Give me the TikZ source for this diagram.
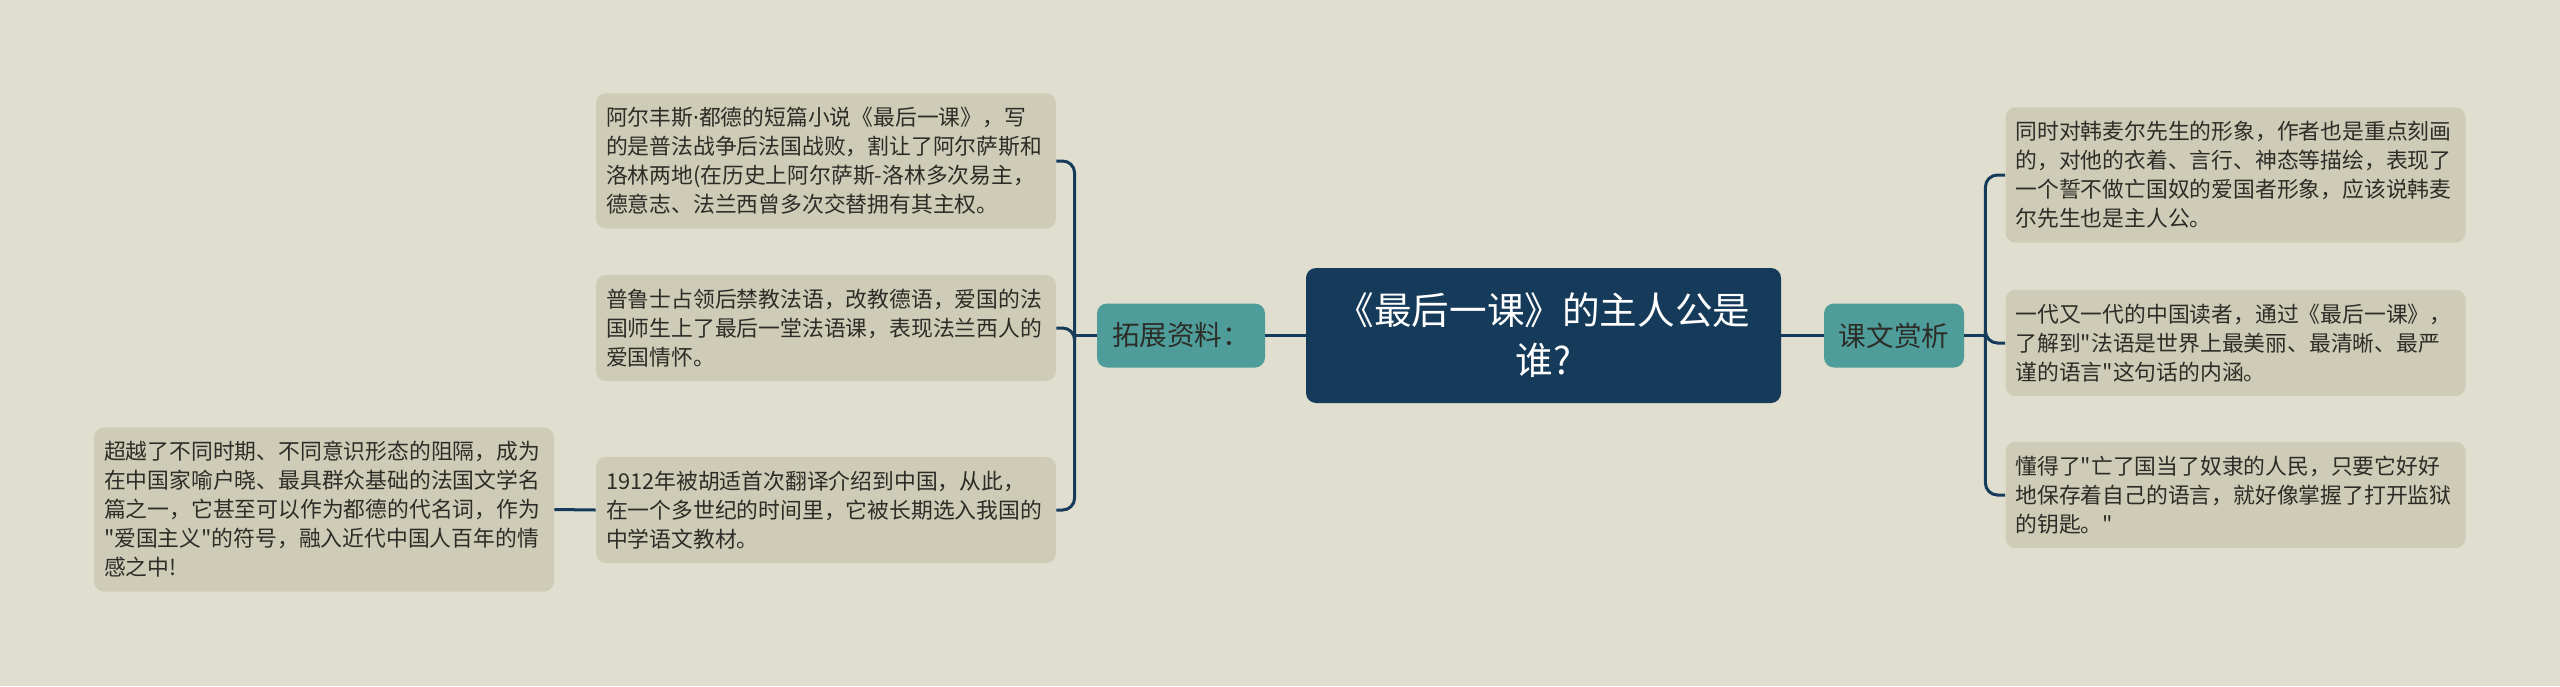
\documentclass[tikz,border=0pt]{standalone}
\usepackage{fontspec}
\newfontfamily\cjk{Noto Sans CJK SC}
\newfontfamily\latn{Noto Sans}
\usepackage{xcolor}
\definecolor{bgc}{RGB}{224,222,207}
\definecolor{leafc}{RGB}{206,204,182}
\definecolor{tealc}{RGB}{79,157,155}
\definecolor{navy}{RGB}{22,59,90}
\definecolor{txt}{RGB}{45,45,40}

\begin{document}
\begin{tikzpicture}[x=0.5pt,y=-0.5pt,
  leaf/.style={fill=leafc, rounded corners=5pt, text=txt, align=left,
    text width=220pt, inner xsep=5pt, inner ysep=7pt,
    font=\cjk\fontsize{10.9}{14.5}\selectfont},
  mid/.style={fill=tealc, rounded corners=5pt, text=txt, align=center,
    inner sep=0pt, minimum height=32pt, font=\cjk\fontsize{13.8}{16}\selectfont},
  root/.style={fill=navy, rounded corners=5pt, text=white, align=center,
    inner sep=0pt, minimum width=237.5pt, minimum height=67.5pt,
    font=\cjk\fontsize{18.8}{25}\selectfont},
  link/.style={draw=navy, line width=1.5pt, rounded corners=6pt}]
  % page
  \fill[bgc] (0,0) rectangle (2560,686);
  \useasboundingbox (0,0) rectangle (2560,686);

  \node[root] (r) at (1543.5,335.5) {《最后一课》的主人公是\\谁?};
  \node[mid, minimum width=84pt] (tz) at (1181,335.5) {拓展资料：};
  \node[mid, minimum width=70pt] (kw) at (1894,335.5) {课文赏析};

  % left side
  \node[leaf] (l1) at (826,161) {阿尔丰斯{\latn·}都德的短篇小说《最后一课》，写\\的是普法战争后法国战败，割让了阿尔萨斯和\\洛林两地(在历史上阿尔萨斯-洛林多次易主，\\德意志、法兰西曾多次交替拥有其主权。};
  \node[leaf] (l2) at (826,328) {普鲁士占领后禁教法语，改教德语，爱国的法\\国师生上了最后一堂法语课，表现法兰西人的\\爱国情怀。};
  \node[leaf] (l3) at (826,510) {1912年被胡适首次翻译介绍到中国，从此，\\在一个多世纪的时间里，它被长期选入我国的\\中学语文教材。};
  \node[leaf] (l4) at (324,509.5) {超越了不同时期、不同意识形态的阻隔，成为\\在中国家喻户晓、最具群众基础的法国文学名\\篇之一，它甚至可以作为都德的代名词，作为\\"爱国主义"的符号，融入近代中国人百年的情\\感之中!};

  % right side
  \node[leaf] (k1) at (2235.5,175) {同时对韩麦尔先生的形象，作者也是重点刻画\\的，对他的衣着、言行、神态等描绘，表现了\\一个誓不做亡国奴的爱国者形象，应该说韩麦\\尔先生也是主人公。};
  \node[leaf] (k2) at (2235.5,343) {一代又一代的中国读者，通过《最后一课》，\\了解到"法语是世界上最美丽、最清晰、最严\\谨的语言"这句话的内涵。};
  \node[leaf] (k3) at (2235.5,495) {懂得了"亡了国当了奴隶的人民，只要它好好\\地保存着自己的语言，就好像掌握了打开监狱\\的钥匙。"};

  \draw[link] (r.west) -- (tz.east);
  \draw[link] (r.east) -- (kw.west);
  \draw[link] (tz.west) -- ++(-22,0) coordinate (tj);
  \draw[link] (kw.east) -- ++(21,0) coordinate (kj);
  \foreach \n in {l1,l2,l3}
    \draw[link] (tj) |- (\n.east);
  \foreach \n in {k1,k2,k3}
    \draw[link] (kj) |- (\n.west);
  \draw[link] (l3.west) -- (l4.east);
\end{tikzpicture}
\end{document}
